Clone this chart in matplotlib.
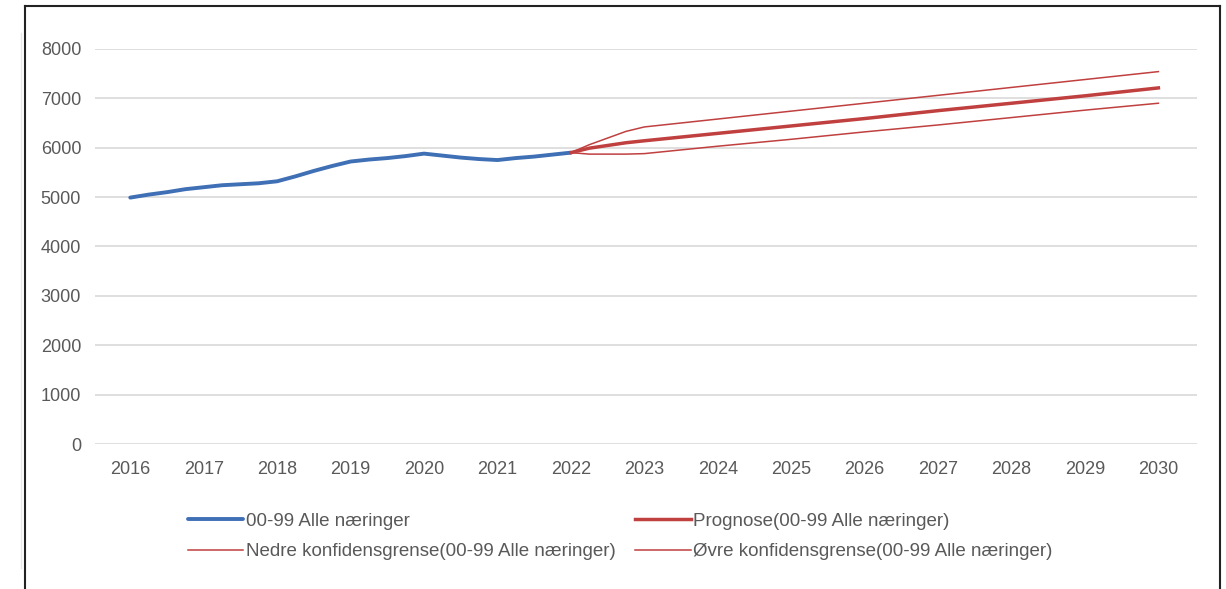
import matplotlib.pyplot as plt
from matplotlib.lines import Line2D

plt.rcParams['font.family'] = ['Liberation Sans', 'DejaVu Sans']

# historiske tall, kvartalsvis
hist_x = [2016.00, 2016.25, 2016.50, 2016.75, 2017.00, 2017.25, 2017.50, 2017.75,
          2018.00, 2018.25, 2018.50, 2018.75, 2019.00, 2019.25, 2019.50, 2019.75,
          2020.00, 2020.25, 2020.50, 2020.75, 2021.00, 2021.25, 2021.50, 2021.75,
          2022.00]
hist_y = [4990, 5050, 5100, 5160, 5200, 5240, 5260, 5280,
          5320, 5420, 5530, 5630, 5720, 5760, 5790, 5830,
          5880, 5840, 5800, 5770, 5750, 5790, 5820, 5860,
          5900]

# prognose med konfidensgrenser
prog_x = [2022.00, 2022.25, 2022.75, 2023, 2024, 2025, 2026, 2027, 2028, 2029, 2030]
prog_y = [5900, 5990, 6100, 6140, 6290, 6440, 6590, 6750, 6900, 7050, 7210]
ovre_y = [5900, 6060, 6330, 6420, 6580, 6740, 6900, 7060, 7220, 7380, 7540]
nedre_y = [5900, 5870, 5870, 5880, 6030, 6170, 6320, 6460, 6610, 6760, 6900]

years = list(range(2016, 2031))
yticks = [0, 1000, 2000, 3000, 4000, 5000, 6000, 7000, 8000]

blue = '#3F6FB5'
red = '#C0403F'
txt = '#595959'

fig = plt.figure(figsize=(12.26, 5.89), dpi=100)
ax = fig.add_axes([0.0775, 0.246, 0.8985, 0.671])

l1, = ax.plot(hist_x, hist_y, color=blue, lw=2.8, solid_capstyle='round')
l3, = ax.plot(prog_x, nedre_y, color=red, lw=1.1)
l4, = ax.plot(prog_x, ovre_y, color=red, lw=1.1)
l2, = ax.plot(prog_x, prog_y, color=red, lw=2.5)

ax.set_xlim(2015.52, 2030.52)
ax.set_ylim(0, 8000)
ax.set_xticks(years)
ax.set_xticklabels([str(y) for y in years])
ax.set_yticks(yticks)
ax.grid(axis='y', color='#D9D9D9', lw=1.2)
ax.set_axisbelow(True)
for s in ax.spines.values():
    s.set_visible(False)
ax.tick_params(length=0, labelsize=13, labelcolor=txt)
ax.tick_params(axis='x', pad=12)
ax.tick_params(axis='y', pad=10)

leg = fig.legend([l1, l3, l2, l4],
                 ['00-99 Alle næringer', 'Nedre konfidensgrense(00-99 Alle næringer)',
                  'Prognose(00-99 Alle næringer)', 'Øvre konfidensgrense(00-99 Alle næringer)'],
                 ncol=2, loc='upper left', bbox_to_anchor=(0.147, 0.142),
                 frameon=False, fontsize=13.5, handlelength=2.95, handletextpad=0.15,
                 columnspacing=1.05, labelspacing=0.7, borderaxespad=0)
for t in leg.get_texts():
    t.set_color(txt)

# ramme rundt figuren
fig.add_artist(Line2D([25 / 1226, 25 / 1226], [0, 1 - 6 / 589], color='#222222', lw=1.5))
fig.add_artist(Line2D([25 / 1226, 1220 / 1226], [1 - 6 / 589, 1 - 6 / 589], color='#222222', lw=1.5))
fig.add_artist(Line2D([1220 / 1226, 1220 / 1226], [0, 1 - 6 / 589], color='#222222', lw=1.5))
fig.add_artist(Line2D([21 / 1226, 21 / 1226], [1 - 568 / 589, 1 - 33 / 589], color='#E6E6E6', lw=1))

fig.savefig('out.png', dpi=100)
